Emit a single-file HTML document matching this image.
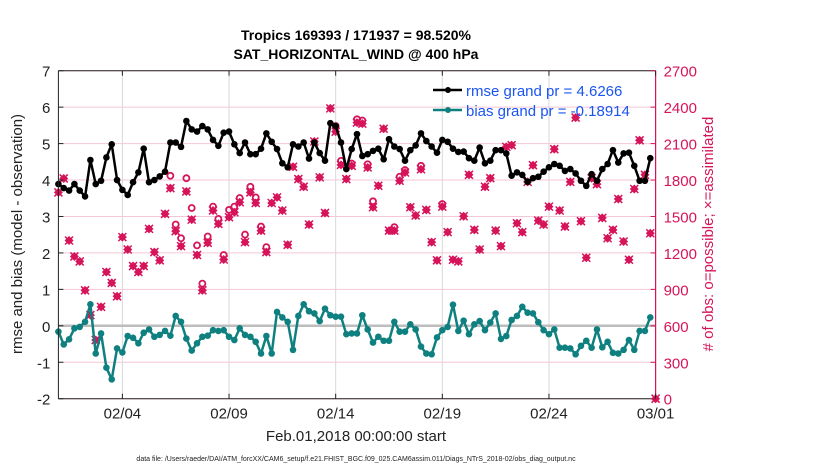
<!DOCTYPE html>
<html><head><meta charset="utf-8"><style>
html,body{margin:0;padding:0;background:#fff;}
svg{display:block;font-family:"Liberation Sans",sans-serif;}
</style></head><body>
<svg id="chart" width="830" height="470" viewBox="0 0 830 470">
<text x="356" y="40" text-anchor="middle" font-size="14" font-weight="bold">Tropics 169393 / 171937 = 98.520%</text>
<text x="356" y="59" text-anchor="middle" font-size="14" font-weight="bold">SAT_HORIZONTAL_WIND @ 400 hPa</text>
<g id="grid"></g>
<g id="marks"></g>
<g id="axes"></g>
<text transform="translate(22,234) rotate(-90)" text-anchor="middle" font-size="15" fill="#222">rmse and bias (model - observation)</text>
<text transform="translate(713,234) rotate(-90)" text-anchor="middle" font-size="15" fill="#d6145a"># of obs: o=possible; ×=assimilated</text>
<text x="356" y="441" text-anchor="middle" font-size="15" fill="#222">Feb.01,2018 00:00:00 start</text>
<text x="356" y="461" text-anchor="middle" font-size="7" fill="#222">data file: /Users/raeder/DAI/ATM_forcXX/CAM6_setup/f.e21.FHIST_BGC.f09_025.CAM6assim.011/Diags_NTrS_2018-02/obs_diag_output.nc</text>
<g>
<line x1="433" y1="90" x2="462" y2="90" stroke="#000" stroke-width="2.5"/>
<circle cx="448" cy="90" r="3" fill="#000"/>
<text x="466" y="96" font-size="15" fill="#1a55f0">rmse grand pr = 4.6266</text>
<line x1="433" y1="110" x2="462" y2="110" stroke="#0f8080" stroke-width="2.5"/>
<circle cx="448" cy="110" r="3" fill="#0f8080"/>
<text x="466" y="116" font-size="15" fill="#1a55f0">bias grand pr = -0.18914</text>
</g>
</svg>
<script>
const rmse=[3.89,3.78,3.71,3.89,3.71,3.55,4.55,3.89,3.98,4.62,4.98,4.0,3.73,3.59,3.94,4.21,4.86,3.94,4.0,4.1,4.23,5.03,5.03,4.91,5.62,5.39,5.33,5.48,5.39,5.1,4.94,5.3,5.33,4.98,4.74,5.03,4.71,4.71,4.86,5.28,5.05,4.85,4.46,4.35,4.98,4.92,5.03,4.59,5.03,4.74,4.53,5.56,5.48,5.03,4.3,4.85,5.26,4.66,4.71,4.8,4.86,4.57,5.12,4.92,4.85,4.53,4.82,4.95,5.28,5.07,4.92,4.75,5.1,5.05,4.86,4.77,4.78,4.6,4.53,4.89,4.46,4.53,4.82,4.82,4.73,4.12,4.21,4.14,3.95,4.05,4.09,4.23,4.35,4.44,4.39,4.25,4.3,4.18,3.98,3.84,4.16,3.98,4.3,4.44,4.82,4.48,4.73,4.75,4.39,3.98,3.98,4.6];
const bias=[-0.16,-0.51,-0.37,-0.07,-0.03,0.11,0.59,-0.76,-0.21,-1.15,-1.47,-0.62,-0.73,-0.28,-0.33,-0.48,-0.19,-0.1,-0.3,-0.25,-0.14,-0.27,0.27,0.11,-0.35,-0.68,-0.48,-0.3,-0.27,-0.12,-0.14,-0.12,-0.3,-0.39,-0.07,-0.25,-0.3,-0.44,-0.76,-0.28,-0.76,0.38,0.23,0.11,-0.66,0.27,0.59,0.4,0.34,0.13,0.47,0.29,0.25,0.25,-0.23,-0.21,-0.21,0.29,-0.1,-0.46,-0.3,-0.41,-0.41,0.11,-0.16,-0.16,0.04,-0.1,-0.57,-0.76,-0.78,-0.32,-0.12,-0.03,0.58,-0.14,0.14,-0.23,0.04,0.13,-0.12,0.09,0.34,-0.36,-0.28,0.16,0.27,0.52,0.36,0.34,0.1,-0.12,-0.23,-0.1,-0.6,-0.6,-0.62,-0.78,-0.55,-0.41,-0.6,-0.1,-0.59,-0.44,-0.74,-0.76,-0.66,-0.39,-0.66,-0.14,-0.14,0.23];
const nassim=[1698,1813,1302,1171,1130,892,688,483,756,1043,953,843,1330,1228,1092,1043,1092,1398,1207,1139,1521,1733,1379,1256,1706,1474,1183,892,1283,1549,1439,1146,1494,1535,1617,1289,1698,1611,1384,1207,1611,1657,1549,1267,1909,1808,1745,1434,2117,1822,1529,2390,2198,1925,1808,1917,2273,2264,1903,1576,1753,2222,1384,1384,1794,1862,1576,1508,1889,1554,1289,1139,1581,1371,1144,1130,1502,1843,1390,1228,1745,1815,1384,1256,2073,2087,1444,1371,1785,1922,1466,1434,1581,2054,1549,1417,1785,2314,1461,1160,1815,1766,1488,1321,1390,1644,1294,1144,1726,2127,1843,1362,0];
const nposs=[1698,1813,1302,1171,1130,892,688,483,756,1043,953,843,1330,1228,1092,1043,1092,1398,1207,1139,1521,1835,1434,1321,1815,1570,1262,947,1335,1581,1480,1183,1554,1581,1652,1351,1745,1657,1417,1248,1611,1657,1549,1267,1909,1808,1745,1434,2127,1822,1529,2400,2245,1958,1808,1936,2300,2290,1930,1625,1753,2222,1384,1412,1827,1882,1576,1508,1917,1554,1289,1139,1603,1371,1144,1130,1502,1843,1390,1228,1758,1815,1384,1256,2073,2087,1444,1371,1785,1922,1466,1434,1581,2054,1549,1417,1785,2314,1461,1160,1815,1766,1488,1321,1390,1644,1294,1144,1726,2127,1843,1362,0];
const dateTicks=["02/04","02/09","02/14","02/19","02/24","03/01"];
const dateTickDays=[3,8,13,18,23,28];
const leftTicks=[-2,-1,0,1,2,3,4,5,6,7];
const rightTicks=[0,300,600,900,1200,1500,1800,2100,2400,2700];

const NS="http://www.w3.org/2000/svg";
const X0=58.4,X1=655.6,DAYS=28,YT=70.7,YB=398.7;
const xDay=d=>X0+(d/DAYS)*(X1-X0);
const xIdx=i=>xDay(i*0.25);
const yL=v=>YB-(v+2)/9*(YB-YT);
const yR=c=>YB-c/2700*(YB-YT);
function mk(tag,attrs,parent){const e=document.createElementNS(NS,tag);for(const k in attrs)e.setAttribute(k,attrs[k]);parent.appendChild(e);return e;}
const grid=document.getElementById('grid'),marks=document.getElementById('marks'),axes=document.getElementById('axes');

rightTicks.forEach(c=>{const g=mk('line',{x1:X0,x2:X1,y1:yR(c),y2:yR(c),stroke:'#f4c6d8','stroke-width':1},grid);

});
dateTickDays.forEach(d=>{const g=mk('line',{x1:xDay(d),x2:xDay(d),y1:YT,y2:YB,stroke:'#d8d8d8','stroke-width':1},grid);

});
const zl=mk('line',{x1:X0,x2:X1,y1:yL(0),y2:yL(0),stroke:'#bdbdbd','stroke-width':2.5},grid);



// obs counts
const red='#d6145a';
nposs.forEach((c,i)=>{if(c>nassim[i]+15){const e=mk('circle',{cx:xIdx(i),cy:yR(c),r:3,fill:'none',stroke:red,'stroke-width':1.8},marks);

}});
nassim.forEach((c,i)=>{const x=xIdx(i),y=yR(c);const g=mk('g',{},marks);


mk('path',{d:`M${x} ${y-4.5}L${x+4.5} ${y}L${x} ${y+4.5}L${x-4.5} ${y}Z`,fill:red},g);
mk('path',{d:`M${x-4} ${y-4}L${x+4} ${y+4}M${x+4} ${y-4}L${x-4} ${y+4}`,stroke:red,'stroke-width':1.5},g);});

function series(vals,color,name){
const pts=vals.map((v,i)=>xIdx(i).toFixed(1)+','+yL(v).toFixed(1)).join(' ');
const pl=mk('polyline',{points:pts,fill:'none',stroke:color,'stroke-width':2.5,'stroke-linejoin':'round'},marks);


vals.forEach((v,i)=>{const c=mk('circle',{cx:xIdx(i),cy:yL(v),r:3.3,fill:color},marks);

});}
series(rmse,'#000','rmse');
series(bias,'#0f8080','bias');

// axes
mk('line',{x1:X0,x2:X0,y1:YT,y2:YB,stroke:'#222','stroke-width':1},axes);
mk('line',{x1:X0,x2:X1,y1:YB,y2:YB,stroke:'#222','stroke-width':1},axes);
mk('line',{x1:X0,x2:X1,y1:YT,y2:YT,stroke:'#222','stroke-width':1},axes);
mk('line',{x1:X1,x2:X1,y1:YT,y2:YB,stroke:red,'stroke-width':1.2},axes);
leftTicks.forEach(v=>{mk('line',{x1:X0,x2:X0+5,y1:yL(v),y2:yL(v),stroke:'#222'},axes);
const t=mk('text',{x:X0-8,y:yL(v)+6,'text-anchor':'end','font-size':15,fill:'#222'},axes);t.textContent=v;

});
rightTicks.forEach(c=>{mk('line',{x1:X1-5,x2:X1,y1:yR(c),y2:yR(c),stroke:red},axes);
const t=mk('text',{x:X1+8,y:yR(c)+6,'font-size':15,fill:red},axes);t.textContent=c;

});
dateTickDays.forEach((d,k)=>{mk('line',{x1:xDay(d),x2:xDay(d),y1:YB,y2:YB-5,stroke:'#222'},axes);
mk('line',{x1:xDay(d),x2:xDay(d),y1:YT,y2:YT+5,stroke:'#222'},axes);
const t=mk('text',{x:xDay(d),y:YB+20,'text-anchor':'middle','font-size':15,fill:'#222'},axes);t.textContent=dateTicks[k];

});
</script>
</body></html>
